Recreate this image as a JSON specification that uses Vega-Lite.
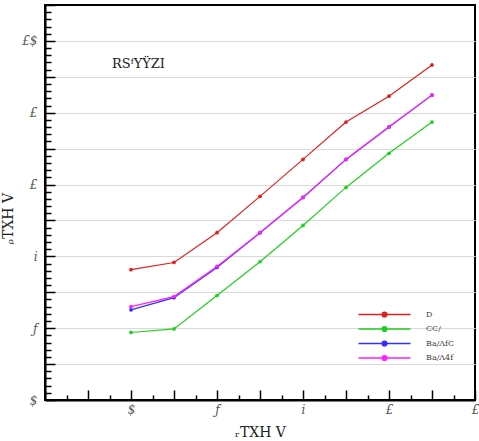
{
  "$schema": "https://vega.github.io/schema/vega-lite/v6.json",
  "width": 430,
  "height": 395,
  "autosize": {"type": "none"},
  "padding": {"left": 45, "top": 5, "right": 4, "bottom": 41},
  "background": "white",
  "config": {
    "view": {"stroke": "black", "strokeWidth": 2},
    "font": "DejaVu Serif"
  },
  "datasets": {
    "series": [
      {"x": 0, "y": 3.63, "s": "D"}, {"x": 1, "y": 3.83, "s": "D"}, {"x": 2, "y": 4.66, "s": "D"}, {"x": 3, "y": 5.67, "s": "D"},
      {"x": 4, "y": 6.70, "s": "D"}, {"x": 5, "y": 7.74, "s": "D"}, {"x": 6, "y": 8.46, "s": "D"}, {"x": 7, "y": 9.33, "s": "D"},
      {"x": 0, "y": 1.88, "s": "CC/"}, {"x": 1, "y": 1.98, "s": "CC/"}, {"x": 2, "y": 2.91, "s": "CC/"}, {"x": 3, "y": 3.85, "s": "CC/"},
      {"x": 4, "y": 4.86, "s": "CC/"}, {"x": 5, "y": 5.92, "s": "CC/"}, {"x": 6, "y": 6.87, "s": "CC/"}, {"x": 7, "y": 7.74, "s": "CC/"},
      {"x": 0, "y": 2.51, "s": "Ba/ΛfC"}, {"x": 1, "y": 2.85, "s": "Ba/ΛfC"}, {"x": 2, "y": 3.69, "s": "Ba/ΛfC"}, {"x": 3, "y": 4.66, "s": "Ba/ΛfC"},
      {"x": 4, "y": 5.64, "s": "Ba/ΛfC"}, {"x": 5, "y": 6.70, "s": "Ba/ΛfC"}, {"x": 6, "y": 7.60, "s": "Ba/ΛfC"}, {"x": 7, "y": 8.49, "s": "Ba/ΛfC"},
      {"x": 0, "y": 2.60, "s": "Ba/Λ4f"}, {"x": 1, "y": 2.88, "s": "Ba/Λ4f"}, {"x": 2, "y": 3.72, "s": "Ba/Λ4f"}, {"x": 3, "y": 4.66, "s": "Ba/Λ4f"},
      {"x": 4, "y": 5.64, "s": "Ba/Λ4f"}, {"x": 5, "y": 6.70, "s": "Ba/Λ4f"}, {"x": 6, "y": 7.60, "s": "Ba/Λ4f"}, {"x": 7, "y": 8.49, "s": "Ba/Λ4f"}
    ],
    "note": [{"x": -0.44, "y": 9.35, "t": "RSᶠYŸZI"}]
  },
  "layer": [
    {
      "data": {"name": "series"},
      "mark": {"type": "line", "strokeWidth": 1.2, "point": {"filled": true, "size": 14}},
      "encoding": {
        "x": {
          "field": "x", "type": "quantitative",
          "scale": {"domain": [-2, 8], "nice": false, "zero": false},
          "axis": {
            "title": "ᵣTXH V", "titleFontSize": 14, "titleFontWeight": "normal", "titlePadding": 5, "titleColor": "#222",
            "values": [-2,-1.5,-1,-0.5,0,0.5,1,1.5,2,2.5,3,3.5,4,4.5,5,5.5,6,6.5,7,7.5,8],
            "tickCount": 200,
            "tickSize": {"condition": {"test": "abs(datum.value - round(datum.value)) < 0.01", "value": -10}, "value": -5},
            "tickColor": "black", "tickWidth": 1.5,
            "domainColor": "black", "domainWidth": 2,
            "grid": false,
            "labelExpr": "datum.value == 0 ? '$' : datum.value == 2 ? 'ƒ' : datum.value == 4 ? 'i' : datum.value == 6 ? '£' : datum.value == 8 ? '£' : ''",
            "labelFontStyle": "italic", "labelFontSize": 12, "labelColor": "#555",
            "labelPadding": 14, "labelOverlap": false, "labelFlush": false
          }
        },
        "y": {
          "field": "y", "type": "quantitative",
          "scale": {"domain": [0, 11], "nice": false, "zero": false},
          "axis": {
            "title": "ᵨTXH V", "titleFontSize": 14, "titleFontWeight": "normal", "titlePadding": 6, "titleColor": "#222", "titleY": 213,
            "values": [0,0.2,0.4,0.6,0.8,1,1.2,1.4,1.6,1.8,2,2.2,2.4,2.6,2.8,3,3.2,3.4,3.6,3.8,4,4.2,4.4,4.6,4.8,5,5.2,5.4,5.6,5.8,6,6.2,6.4,6.6,6.8,7,7.2,7.4,7.6,7.8,8,8.2,8.4,8.6,8.8,9,9.2,9.4,9.6,9.8,10,10.2,10.4,10.6,10.8,11],
            "tickCount": 200,
            "tickSize": {"condition": {"test": "abs(datum.value - round(datum.value)) < 0.01", "value": -10}, "value": -6},
            "tickColor": "black", "tickWidth": 1.5,
            "domainColor": "black", "domainWidth": 2,
            "grid": true, "gridColor": "#d9d9d9", "gridWidth": 1.2,
            "gridOpacity": {"condition": {"test": "abs(datum.value - round(datum.value)) < 0.01 && datum.value > 0.5 && datum.value < 10.5", "value": 1}, "value": 0},
            "labelExpr": "datum.value == 0 ? '$' : datum.value == 2 ? 'ƒ' : datum.value == 4 ? 'i' : datum.value == 6 ? '£' : datum.value == 8 ? '£' : datum.value == 10 ? '£$' : ''",
            "labelFontStyle": "italic", "labelFontSize": 12, "labelColor": "#555",
            "labelPadding": 18, "labelOverlap": false, "labelFlush": false
          }
        },
        "color": {
          "field": "s", "type": "nominal",
          "scale": {"domain": ["D", "CC/", "Ba/ΛfC", "Ba/Λ4f"], "range": ["#e02020", "#20d020", "#3030ff", "#ff20ff"]},
          "legend": {
            "title": null, "orient": "none", "legendX": 332, "legendY": 302,
            "symbolType": "M-4,0H4M-0.35,0A0.35,0.35,0,1,0,0.35,0A0.35,0.35,0,1,0,-0.35,0",
            "symbolSize": 169, "symbolStrokeWidth": 1.6,
            "labelFontSize": 8, "labelColor": "#444", "labelOffset": 34,
            "rowPadding": 1.5, "padding": 0
          }
        }
      }
    },
    {
      "data": {"name": "note"},
      "mark": {"type": "text", "align": "left", "baseline": "middle", "fontSize": 13, "color": "#222"},
      "encoding": {
        "x": {"field": "x", "type": "quantitative"},
        "y": {"field": "y", "type": "quantitative"},
        "text": {"field": "t"}
      }
    }
  ]
}
